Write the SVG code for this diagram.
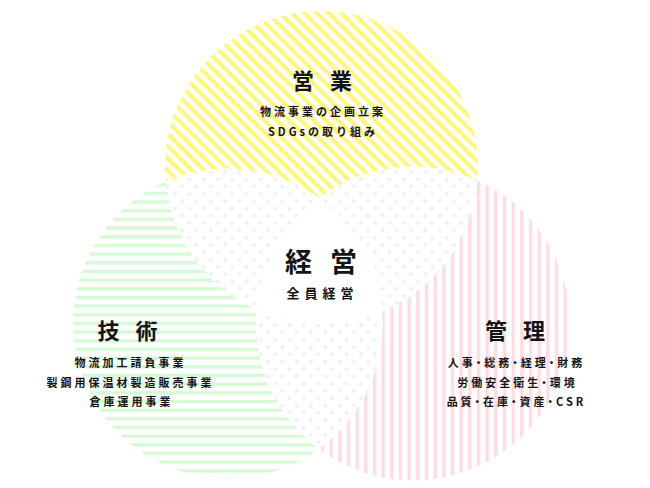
<svg xmlns="http://www.w3.org/2000/svg" width="650" height="488" viewBox="0 0 650 488">
<style>
text{font-family:"Noto Sans CJK JP","Noto Sans",sans-serif;fill:#141414;text-anchor:middle;font-weight:700}
.t{font-size:22px;letter-spacing:16px}
.s{font-size:11px;letter-spacing:3px}
.p{font-feature-settings:"palt"}
</style>
<defs>
<pattern id="pY" width="8.67" height="8.67" patternUnits="userSpaceOnUse" patternTransform="rotate(45)"><rect width="8.67" height="4.2" fill="#fff77a"/></pattern>
<pattern id="pG" width="10" height="8.67" patternUnits="userSpaceOnUse" y="1"><rect width="10" height="3.4" fill="#d6fad6"/></pattern>
<pattern id="pP" width="8.67" height="10" patternUnits="userSpaceOnUse"><rect width="3.4" height="10" fill="#ffdce2"/></pattern>
<pattern id="pD" width="14.3" height="14.6" patternUnits="userSpaceOnUse" x="182" y="179"><rect width="14.3" height="14.6" fill="#fff"/><circle cx="7.3" cy="0.3" r="2" fill="#eef0f2"/><circle cx="0.3" cy="7.6" r="2" fill="#eef0f2"/><circle cx="14.6" cy="7.6" r="2" fill="#eef0f2"/><circle cx="7.3" cy="14.9" r="2" fill="#eef0f2"/></pattern>
<clipPath id="cT"><circle cx="321.5" cy="167.5" r="156.5"/></clipPath>
<clipPath id="cL"><circle cx="228" cy="323.5" r="155"/></clipPath>
<clipPath id="cR"><circle cx="413" cy="323.5" r="157"/></clipPath>
</defs>
<rect width="650" height="488" fill="#fff"/>
<g id="sales-circle"><circle cx="321.5" cy="167.5" r="156.5" fill="url(#pY)"/></g>
<g id="tech-circle"><circle cx="228" cy="323.5" r="155" fill="url(#pG)"/></g>
<g id="admin-circle"><circle cx="413" cy="323.5" r="157" fill="url(#pP)"/></g>
<g id="overlaps">
<g clip-path="url(#cT)"><circle cx="228" cy="323.5" r="155" fill="url(#pD)"/><circle cx="413" cy="323.5" r="157" fill="url(#pD)"/></g>
<g clip-path="url(#cL)"><circle cx="413" cy="323.5" r="157" fill="url(#pD)"/></g>
</g>
<g id="management-center"><g clip-path="url(#cR)"><g clip-path="url(#cL)"><circle cx="321.5" cy="167.5" r="156.5" fill="#fff"/></g></g>
<text x="330" y="272" style="font-size:27px;letter-spacing:18px">経営</text>
<text x="322.5" y="298" style="font-size:13px;letter-spacing:5px">全員経営</text>
</g>
<g id="sales">
<text class="t" x="330" y="89">営業</text>
<text class="s" x="323" y="116">物流事業の企画立案</text>
<text class="s" x="323" y="136">SDGsの取り組み</text>
</g>
<g id="tech">
<text class="t" x="135.5" y="339">技術</text>
<text class="s" x="130.5" y="367">物流加工請負事業</text>
<text class="s" x="130.5" y="387">製鋼用保温材製造販売事業</text>
<text class="s" x="131.5" y="406">倉庫運用事業</text>
</g>
<g id="admin">
<text class="t" x="523" y="339">管理</text>
<text class="s p" x="516.5" y="367">人事・総務・経理・財務</text>
<text class="s p" x="517.5" y="387">労働安全衛生・環境</text>
<text class="s p" x="516.5" y="406">品質・在庫・資産・CSR</text>
</g>
</svg>
